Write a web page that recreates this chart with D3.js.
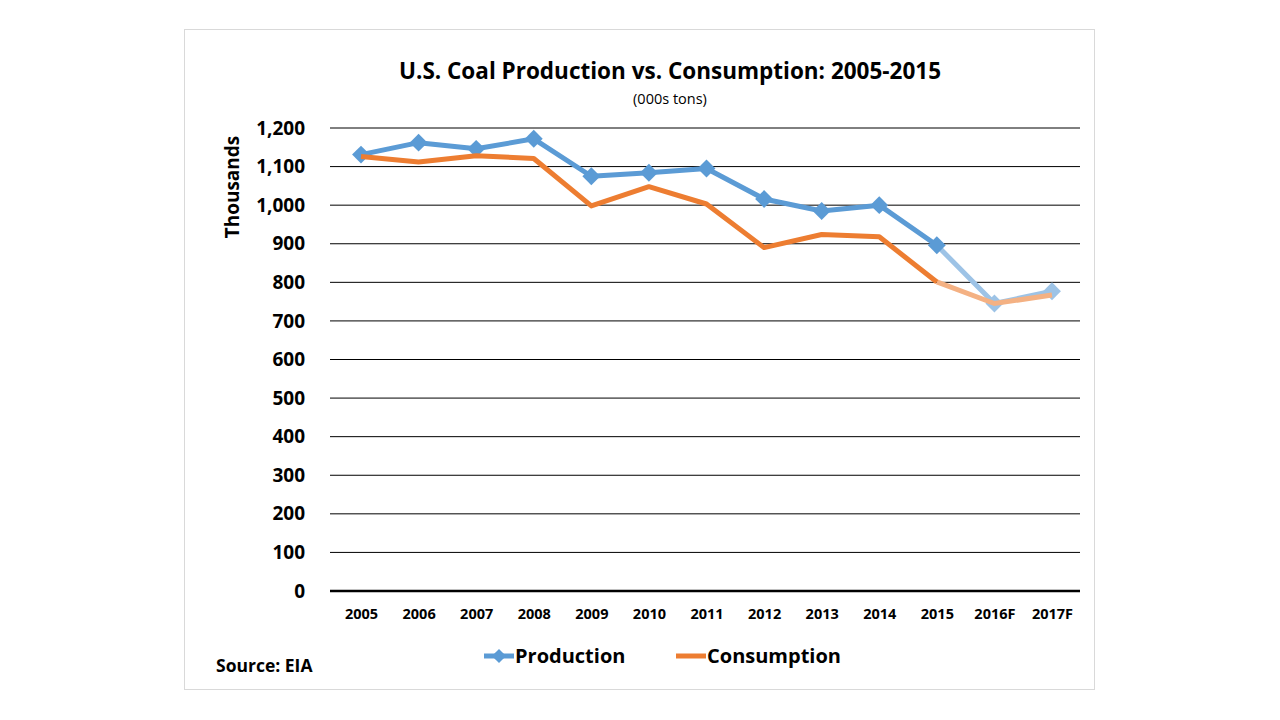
<!DOCTYPE html>
<html>
<head>
<meta charset="utf-8">
<script src="https://cdn.jsdelivr.net/npm/d3@7"></script>
<style>
  body { margin: 0; background: #fff; font-family: "Open Sans", sans-serif; }
  text { font-family: "Open Sans", sans-serif; }
</style>
</head>
<body>
<div id="chart"></div>
<script>
const years = ["2005", "2006", "2007", "2008", "2009", "2010", "2011", "2012", "2013", "2014", "2015", "2016F", "2017F"];
const production = [1131, 1162, 1146, 1172, 1075, 1084, 1095, 1016, 985, 1000, 896, 745, 777];
const consumption = [1126, 1112, 1128, 1121, 998, 1048, 1003, 890, 924, 918, 801, 745, 767];
const yTicks = [0, 100, 200, 300, 400, 500, 600, 700, 800, 900, 1000, 1100, 1200];
const forecastFrom = 10; // index of 2015, lines turn light after it

const width = 1280;
const height = 720;

const svg = d3.select("#chart")
	.append("svg")
		.attr("width", width)
		.attr("height", height);

// frame
svg.append("rect")
	.attr("x", 184.5).attr("y", 29.5)
	.attr("width", 910).attr("height", 660)
	.style("fill", "#fff")
	.style("stroke", "#d9d9d9");

// scales
const x = d3.scalePoint()
	.domain(years)
	.range([361, 1052]);
const y = d3.scaleLinear()
	.domain([0, 1200])
	.range([591, 128]);

// gridlines
svg.append("g")
	.selectAll("line")
	.data(yTicks)
	.join("line")
		.attr("x1", 330)
		.attr("x2", 1080)
		.attr("y1", (d) => y(d))
		.attr("y2", (d) => y(d))
		.style("stroke", "#000")
		.style("stroke-width", (d) => d === 0 ? 2.5 : 1);

// y axis labels
const yAxis = svg.append("g")
	.attr("transform", "translate(305,0)")
	.call(d3.axisLeft(y).tickValues(yTicks).tickSize(0).tickPadding(0).tickFormat(d3.format(",")));
yAxis.select(".domain").remove();
yAxis.selectAll("text")
	.style("font-size", "19px")
	.style("font-weight", "bold")
	.style("fill", "#000");

// x axis labels
const xAxis = svg.append("g")
	.attr("transform", "translate(0,606)")
	.call(d3.axisBottom(x).tickSize(0).tickPadding(0));
xAxis.select(".domain").remove();
xAxis.selectAll("text")
	.attr("dy", "0.9em")
	.style("font-size", "14.5px")
	.style("font-weight", "bold")
	.style("fill", "#000");

// lines
const line = d3.line()
	.x((d) => x(d.year))
	.y((d) => y(d.val));

// diamond marker: a square turned 45 degrees
const diamond = d3.symbol(d3.symbolSquare, 160);

const series = [
	{ name: "Production", vals: production, color: "#5b9bd5", light: "#9dc3e6", marker: true },
	{ name: "Consumption", vals: consumption, color: "#ed7d31", light: "#f4b183", marker: false }
];

series.forEach((s) => {
	const pts = s.vals.map((v, i) => ({ year: years[i], val: v }));
	const g = svg.append("g");
	g.append("path")
		.datum(pts.slice(forecastFrom))
			.style("fill", "none")
			.style("stroke", s.light)
			.style("stroke-width", 5)
			.attr("d", line);
	g.append("path")
		.datum(pts.slice(0, forecastFrom + 1))
			.style("fill", "none")
			.style("stroke", s.color)
			.style("stroke-width", 5)
			.style("stroke-linejoin", "round")
			.attr("d", line);
	if (s.marker) {
		g.selectAll("path.mark")
			.data(pts)
			.join("path")
				.attr("class", "mark")
				.attr("d", diamond)
				.attr("transform", (d) => `translate(${x(d.year)},${y(d.val)}) rotate(45)`)
				.style("fill", (d, i) => i > forecastFrom ? s.light : s.color);
	}
});

// title
svg.append("text")
	.text("U.S. Coal Production vs. Consumption: 2005-2015")
	.attr("x", 670).attr("y", 79)
	.attr("text-anchor", "middle")
	.style("font-size", "22.5px")
	.style("font-weight", "bold");
svg.append("text")
	.text("(000s tons)")
	.attr("x", 670).attr("y", 104)
	.attr("text-anchor", "middle")
	.style("font-size", "14.5px");

// y title
svg.append("text")
	.text("Thousands")
	.attr("transform", "translate(239,187) rotate(-90)")
	.attr("text-anchor", "middle")
	.style("font-size", "19px")
	.style("font-weight", "bold");

// legend
const legend = svg.append("g");
const legendX = [484, 676];
series.forEach((s, i) => {
	const lg = legend.append("g").attr("transform", `translate(${legendX[i]},656)`);
	lg.append("line")
		.attr("x1", 0).attr("x2", 30)
		.style("stroke", s.color)
		.style("stroke-width", 5);
	if (s.marker) {
		lg.append("path")
			.attr("d", d3.symbol(d3.symbolSquare, 100))
			.attr("transform", "translate(15,0) rotate(45)")
			.style("fill", s.color);
	}
	lg.append("text")
		.text(s.name)
		.attr("x", 31).attr("y", 7)
		.style("font-size", "20px")
		.style("font-weight", "bold");
});

// source
svg.append("text")
	.text("Source: EIA")
	.attr("x", 216).attr("y", 672)
	.style("font-size", "17.5px")
	.style("font-weight", "bold");
</script>
</body>
</html>
